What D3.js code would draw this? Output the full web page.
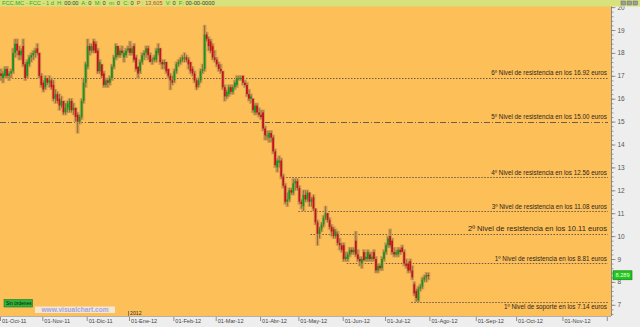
<!DOCTYPE html>
<html>
<head>
<meta charset="utf-8">
<script src="https://cdn.jsdelivr.net/npm/d3@7/dist/d3.min.js"></script>
<style>
body { margin: 0; background: #fff; }
svg { display: block; font-family: "Liberation Sans", Arial, sans-serif; }
</style>
</head>
<body>
<script>
// month ticks (trading days per month)
var monthLabels = ["01-Oct-11", "01-Nov-11", "01-Dic-11", "01-Ene-12", "01-Feb-12", "01-Mar-12", "01-Abr-12",
    "01-May-12", "01-Jun-12", "01-Jul-12", "01-Ago-12", "01-Sep-12", "01-Oct-12", "01-Nov-12"];
var monthDays = [21, 22, 21, 22, 21, 22, 19, 22, 21, 22, 23, 20, 23, 22];

// daily candles [open, high, low, close]
var oct11 = [[17.1,17.3,16.8,17.0],[16.9,17.2,16.7,17.1],[17.0,17.4,16.9,17.3],[17.3,17.4,16.9,17.0],[17.0,17.2,16.8,17.1],
    [17.1,17.3,16.9,17.2],[17.2,18.2,17.1,18.0],[18.0,18.6,17.8,18.4],[18.4,18.6,17.9,18.1],[18.1,18.3,17.7,17.9],
    [17.9,18.2,17.7,18.1],[18.3,18.6,17.4,17.5],[17.5,17.6,16.8,16.9],[17.0,17.7,16.9,17.6],[17.5,17.9,17.4,17.8],
    [17.8,18.0,17.6,17.9],[17.9,18.1,17.7,18.0],[18.0,18.2,17.8,18.1],[18.2,18.4,17.9,18.0],[18.0,18.0,16.9,17.0],
    [17.0,17.1,16.5,16.6]];
var nov11 = [[16.7,16.8,16.3,16.4],[16.5,17.0,16.4,16.9],[16.9,16.9,16.6,16.7],[16.7,17.0,16.5,16.8],[16.8,16.9,16.4,16.5],
    [16.6,16.8,15.9,16.0],[16.0,16.4,15.8,16.2],[16.2,16.3,15.8,15.9],[16.0,16.2,15.5,15.7],[15.7,16.1,15.6,15.9],
    [15.9,15.9,15.3,15.4],[15.4,15.8,15.3,15.6],[15.6,15.9,15.4,15.8],[15.5,16.0,15.4,15.9],[15.9,16.0,15.4,15.5],
    [15.5,15.8,15.3,15.6],[15.6,15.6,15.0,15.2],[15.3,15.4,14.5,15.0],[15.0,15.3,14.9,15.2],[15.2,16.0,15.1,15.9],
    [15.9,16.9,15.8,16.7],[16.7,17.6,16.5,17.5]];
var dic11 = [[17.4,18.6,17.3,18.3],[18.3,18.4,17.9,18.1],[18.1,18.4,18.0,18.3],[18.5,18.6,18.0,18.1],[18.4,18.5,18.0,18.0],
    [18.1,18.2,17.1,17.2],[17.2,17.7,17.1,17.6],[17.5,17.5,16.9,17.0],[17.1,17.2,16.5,16.6],[16.6,16.9,16.5,16.8],
    [16.8,16.9,16.5,16.7],[16.7,17.0,16.6,16.9],[16.9,17.5,16.8,17.4],[17.4,17.9,17.3,17.8],[17.8,18.4,17.7,18.3],
    [18.3,18.3,17.8,17.9],[17.9,18.2,17.8,18.1],[18.1,18.3,17.9,18.0],[17.8,18.1,17.6,18.0],[17.9,18.2,17.8,18.1],
    [18.1,18.3,18.0,18.2]];
var ene12 = [[18.2,18.5,17.9,18.0],[18.0,18.3,17.9,18.2],[18.3,18.4,17.6,17.7],[17.8,17.9,17.2,17.3],[17.4,17.4,16.9,17.1],
    [17.2,17.7,17.1,17.6],[17.6,18.0,17.5,17.9],[17.9,18.1,17.7,18.0],[18.0,18.3,17.8,18.2],[18.2,18.3,17.7,17.9],
    [17.9,18.0,17.6,17.6],[17.7,17.8,17.5,17.7],[17.7,17.9,17.6,17.8],[17.7,18.2,17.6,18.1],[18.0,18.4,17.9,18.2],
    [18.2,18.2,17.5,17.6],[17.6,17.7,17.3,17.5],[17.5,17.7,17.3,17.6],[17.6,17.6,17.1,17.2],[17.3,17.3,16.9,17.0],
    [17.0,17.1,16.4,16.8],[16.8,17.0,16.6,16.7]];
var feb12 = [[16.8,17.3,16.7,17.2],[17.2,17.6,17.1,17.5],[17.5,17.7,17.4,17.6],[17.6,17.8,17.5,17.7],[17.7,17.9,17.6,17.8],
    [17.8,18.0,17.6,17.8],[17.8,17.9,17.6,17.7],[17.7,17.8,17.3,17.5],[17.6,17.6,17.1,17.2],[17.3,17.4,17.0,17.1],
    [17.1,17.2,16.7,16.8],[16.8,16.9,16.4,16.5],[16.6,16.9,16.5,16.8],[16.8,17.3,16.7,17.2],[17.2,17.5,17.1,17.3],
    [17.3,19.2,17.2,18.8],[18.8,18.9,18.5,18.6],[18.6,18.7,18.1,18.3],[18.5,18.6,18.0,18.1],[18.3,18.4,17.7,17.8],
    [17.8,18.1,17.6,17.7]];
var mar12 = [[17.7,17.8,17.4,17.5],[17.5,17.6,17.2,17.3],[17.3,17.5,17.1,17.2],[17.2,17.2,16.4,16.5],[16.5,16.6,15.9,16.1],
    [16.1,16.4,16.0,16.3],[16.2,16.6,16.1,16.5],[16.5,16.6,16.2,16.3],[16.3,16.6,16.2,16.5],[16.5,16.8,16.4,16.7],
    [16.6,17.0,16.5,16.9],[16.9,17.0,16.8,16.9],[16.9,17.0,16.8,16.9],[17.0,17.0,16.6,16.7],[16.7,16.8,16.5,16.6],
    [16.6,16.7,16.1,16.2],[16.2,16.4,15.9,16.0],[16.0,16.2,15.8,16.1],[16.0,16.0,15.4,15.5],[15.4,15.8,15.3,15.7],
    [15.7,15.8,15.3,15.4],[15.4,15.6,15.2,15.3]];
var abr12 = [[15.3,15.5,15.1,15.2],[15.4,15.5,14.6,14.7],[14.7,14.8,14.2,14.4],[14.4,14.6,14.2,14.4],[14.3,14.6,14.1,14.5],
    [14.5,14.6,14.1,14.3],[14.3,14.4,13.6,13.7],[13.7,13.8,13.0,13.1],[13.0,13.4,12.8,13.3],[13.2,13.5,13.0,13.3],
    [13.3,13.4,12.5,12.6],[12.6,12.7,12.1,12.2],[12.2,12.3,11.4,11.5],[11.5,11.9,11.3,11.6],[11.6,12.1,11.5,12.0],
    [12.0,12.1,11.8,11.9],[11.9,12.5,11.8,12.3],[12.3,12.5,12.0,12.4],[12.4,12.5,12.0,12.1]];
var may12 = [[12.1,12.2,11.4,11.5],[11.5,11.6,11.2,11.4],[11.3,12.0,11.1,11.8],[11.8,12.0,11.5,11.6],[11.6,12.0,11.5,11.9],
    [11.9,11.9,11.3,11.5],[11.5,11.7,11.3,11.6],[11.7,11.8,11.1,11.2],[11.2,11.2,10.5,10.6],[10.6,10.7,9.6,10.1],
    [10.1,10.4,9.9,10.3],[10.3,10.6,10.2,10.5],[10.5,10.9,10.4,10.8],[10.8,11.3,10.7,11.0],[11.0,11.0,10.6,10.7],
    [10.7,10.8,10.3,10.4],[10.4,10.5,10.0,10.2],[10.3,10.4,9.9,10.0],[10.0,10.3,9.9,10.2],[10.1,10.2,9.6,9.7],
    [9.7,9.9,9.4,9.6],[9.6,9.7,9.3,9.4]];
var jun12 = [[9.6,9.7,8.9,9.0],[9.0,9.3,8.9,9.1],[9.0,9.3,8.9,9.2],[9.2,9.5,9.1,9.4],[9.4,9.5,9.2,9.3],
    [9.3,9.5,9.2,9.4],[9.8,10.2,9.1,9.2],[9.2,9.4,8.9,9.0],[9.0,9.1,8.7,8.9],[8.8,9.1,8.6,9.0],
    [9.3,9.4,8.9,8.95],[9.0,9.3,8.9,9.1],[9.0,9.4,8.9,9.3],[9.2,9.3,8.9,9.0],[9.0,9.3,8.9,9.1],
    [9.3,9.4,8.9,9.0],[9.0,9.1,8.4,8.5],[8.5,8.8,8.4,8.7],[8.7,8.8,8.5,8.6],[8.6,9.1,8.5,9.0],
    [9.0,9.4,8.9,9.3]];
var jul12 = [[9.3,9.7,9.2,9.6],[9.6,10.0,9.5,9.9],[10.0,10.3,9.5,9.6],[9.8,9.9,9.2,9.3],[9.3,9.5,9.1,9.2],
    [9.2,9.4,9.1,9.3],[9.2,9.5,9.1,9.4],[9.4,9.5,9.2,9.3],[9.5,9.6,9.3,9.3],[9.3,9.4,8.7,8.8],
    [8.8,9.0,8.6,8.7],[8.8,8.9,8.4,8.5],[8.9,9.0,8.4,8.5],[8.5,8.7,8.1,8.2],[7.9,8.0,7.4,7.5],
    [7.6,7.7,7.15,7.3],[7.2,7.8,7.14,7.7],[7.7,7.9,7.6,7.8],[7.8,8.2,7.7,8.1],[8.1,8.3,8.0,8.2],
    [8.2,8.4,8.0,8.3],[8.3,8.4,8.1,8.289]];

// support / resistance levels
var levels = [16.92, 15.00, 12.56, 11.08, 10.11, 8.81, 7.14];
var levelStart = [0, 0, 142, 148, 154, 172, 204];
var levelLabels = ["6º Nivel de resistencia en los 16.92 euros", "5º Nivel de resistencia en los 15.00 euros",
    "4º Nivel de resistencia en los 12.56 euros", "3º Nivel de resistencia en los 11.08 euros",
    "2º Nivel de resistencia en los 10.11 euros", "1º Nivel de resistencia en los 8.81 euros",
    "1º Nivel de soporte en los 7.14 euros"];

var yTicks = d3.range(7, 21);
var lastPrice = "8.289";

var width = 640, height = 327,
    plotRight = 611, plotBottom = 316;

var svg = d3.select('body').append('svg')
    .attr('width', width)
    .attr('height', height);

var totalDays = d3.sum(monthDays);
var x = d3.scaleLinear().domain([0, totalDays]).range([0, 606.8]);
var y = d3.scaleLinear().domain([7, 19]).range([304.8, 30]);

var monthStarts = [];
var acc = 0;
for (var m = 0; m < monthDays.length; ++m) {
    monthStarts.push(acc);
    acc += monthDays[m];
}
monthStarts.push(acc);

var candles = [].concat(oct11, nov11, dic11, ene12, feb12, mar12, abr12, may12, jun12, jul12)
    .map(function (d, i) {
        return {i: i, o: d[0], h: d[1], l: d[2], c: d[3]};
    });

// background
svg.append('rect').attr('x', 0).attr('y', 0).attr('width', plotRight).attr('height', plotBottom)
    .attr('fill', '#fdbf58');

// level lines
levels.forEach(function (v, k) {
    svg.append('line')
        .attr('x1', x(levelStart[k])).attr('x2', 608)
        .attr('y1', Math.round(y(v)) + 0.5).attr('y2', Math.round(y(v)) + 0.5)
        .attr('stroke', '#6e5a4e')
        .attr('stroke-width', 1)
        .attr('stroke-dasharray', k == 1 ? '6,2,1,2' : '1.5,1.5');
});

// candles
var cw = 2.016;
var g = svg.append('g');
g.selectAll('rect.halo').data(candles).enter().append('rect')
    .attr('x', function (d) { return x(d.i) + cw / 2 - 1.9; })
    .attr('y', function (d) { return y(d.h) - 0.6; })
    .attr('width', 3.8)
    .attr('height', function (d) { return y(d.l) - y(d.h) + 1.2; })
    .attr('fill', '#d49f55');
g.selectAll('line.wick').data(candles).enter().append('line')
    .attr('x1', function (d) { return x(d.i) + cw / 2; })
    .attr('x2', function (d) { return x(d.i) + cw / 2; })
    .attr('y1', function (d) { return y(d.h); })
    .attr('y2', function (d) { return y(d.l); })
    .attr('stroke', '#7d6236')
    .attr('stroke-width', 0.8);
g.selectAll('rect.body').data(candles).enter().append('rect')
    .attr('x', function (d) { return x(d.i) + cw / 2 - 0.9; })
    .attr('y', function (d) { return y(Math.max(d.o, d.c)); })
    .attr('width', 1.8)
    .attr('height', function (d) { return Math.max(1, Math.abs(y(d.o) - y(d.c))); })
    .attr('fill', function (d) { return d.c >= d.o ? '#10981c' : '#c8101c'; });

// level labels
levels.forEach(function (v, k) {
    var below = k == 6;
    svg.append('text')
        .attr('x', 607)
        .attr('y', below ? y(v) + 7.5 : y(v) - 2.5)
        .attr('text-anchor', 'end')
        .style('font-size', k == 4 ? '7.6px' : '6.3px')
        .style('fill', '#2e261e')
        .text(levelLabels[k]);
});

// bottom decorations
svg.append('rect').attr('x', 4).attr('y', 299.5).attr('width', 28.5).attr('height', 7.5)
    .attr('fill', '#2fb43a').attr('stroke', '#1c7a22').attr('stroke-width', 0.6);
svg.append('text').attr('x', 6).attr('y', 305).style('font-size', '4.8px').style('fill', '#111')
    .text('Sin órdenes');
svg.append('rect').attr('x', 35).attr('y', 306.5).attr('width', 80).attr('height', 6.5)
    .attr('fill', '#f3e7d6');
svg.append('text').attr('x', 75).attr('y', 312).attr('text-anchor', 'middle')
    .style('font-size', '6.6px').style('font-weight', 'bold').style('fill', '#a4a4e2')
    .text('www.visualchart.com');
svg.append('line').attr('x1', x(monthStarts[3]) - 0.5).attr('x2', x(monthStarts[3]) - 0.5)
    .attr('y1', 311).attr('y2', 316).attr('stroke', '#555').attr('stroke-width', 0.7);
svg.append('text').attr('x', x(monthStarts[3]) + 1).attr('y', 315)
    .style('font-size', '5.2px').style('fill', '#333').text('2012');

// axis panels
svg.append('rect').attr('x', plotRight).attr('y', 0).attr('width', width - plotRight).attr('height', height)
    .attr('fill', '#eeeeee');
svg.append('rect').attr('x', 0).attr('y', plotBottom).attr('width', width).attr('height', height - plotBottom)
    .attr('fill', '#eeeeee');
svg.append('line').attr('x1', plotRight + 0.5).attr('x2', plotRight + 0.5).attr('y1', 0).attr('y2', plotBottom)
    .attr('stroke', '#8a8a8a');
svg.append('line').attr('x1', 0).attr('x2', plotRight).attr('y1', plotBottom + 0.5).attr('y2', plotBottom + 0.5)
    .attr('stroke', '#b0b0b0');

// right axis
var yMinor = svg.append('g').attr('transform', 'translate(' + (plotRight + 0.5) + ',0)')
    .call(d3.axisRight(y).tickValues(d3.range(6.6, 20.3, 0.2)).tickSize(2).tickFormat(''));
var yAxis = svg.append('g').attr('transform', 'translate(' + (plotRight + 0.5) + ',0)')
    .call(d3.axisRight(y).tickValues(yTicks).tickSize(4).tickPadding(2).tickFormat(d3.format('d')));
[yMinor, yAxis].forEach(function (a) {
    a.select('.domain').remove();
    a.selectAll('line').attr('stroke', '#777').attr('stroke-width', 0.7);
});
yAxis.selectAll('text').style('font-size', '6.5px').style('fill', '#555').style('font-family', '"Liberation Sans", Arial, sans-serif');

// bottom axis
var xAxis = svg.append('g').attr('transform', 'translate(0,' + (plotBottom + 1) + ')')
    .call(d3.axisBottom(x).tickValues(monthStarts).tickSize(4)
        .tickFormat(function (d, i) { return monthLabels[i] || ''; }));
xAxis.select('.domain').remove();
xAxis.selectAll('line').attr('stroke', '#666').attr('stroke-width', 0.7);
xAxis.selectAll('text')
    .attr('x', 1.5).attr('y', 2.2).attr('dy', '0.71em')
    .attr('text-anchor', 'start')
    .style('font-size', '5.6px').style('fill', '#444')
    .style('font-family', '"Liberation Sans", Arial, sans-serif');

// last price box
var ly = y(+lastPrice);
svg.append('rect').attr('x', 613).attr('y', ly - 4.5).attr('width', 19).attr('height', 9)
    .attr('fill', '#22c41e').attr('stroke', '#0d7a0d').attr('stroke-width', 0.6);
svg.append('text').attr('x', 622.5).attr('y', ly + 2).attr('text-anchor', 'middle')
    .style('font-size', '5.6px').style('fill', '#e6ffe0').text(lastPrice);

// header bar
svg.append('rect').attr('x', 0).attr('y', 0).attr('width', width).attr('height', 6.5)
    .attr('fill', '#d8e27c');
var head = svg.append('text').attr('x', 2).attr('y', 5.3).style('font-size', '5.7px');
var parts = [["FCC.MC - FCC - 1 d  ", '#27a827'], ["H: ", '#27a827'], ["00:00  ", '#3a3a3a'],
    ["A: ", '#27a827'], ["0  ", '#3a3a3a'], ["M: ", '#27a827'], ["0  ", '#3a3a3a'],
    ["m: ", '#27a827'], ["0  ", '#3a3a3a'], ["C: ", '#27a827'], ["0  ", '#3a3a3a'],
    ["P : 13,605  ", '#e0301c'], ["V: ", '#27a827'], ["0  ", '#3a3a3a'], ["F: ", '#27a827'],
    ["00-00-0000", '#3a3a3a']];
parts.forEach(function (p) {
    head.append('tspan').style('fill', p[1]).attr('xml:space', 'preserve').text(p[0]);
});
head.style('white-space', 'pre');

// window icons
[621, 627, 633].forEach(function (ix) {
    svg.append('rect').attr('x', ix).attr('y', 1).attr('width', 4.5).attr('height', 4)
        .attr('fill', '#9aa0a0').attr('stroke', '#555').attr('stroke-width', 0.4);
});
</script>
</body>
</html>
